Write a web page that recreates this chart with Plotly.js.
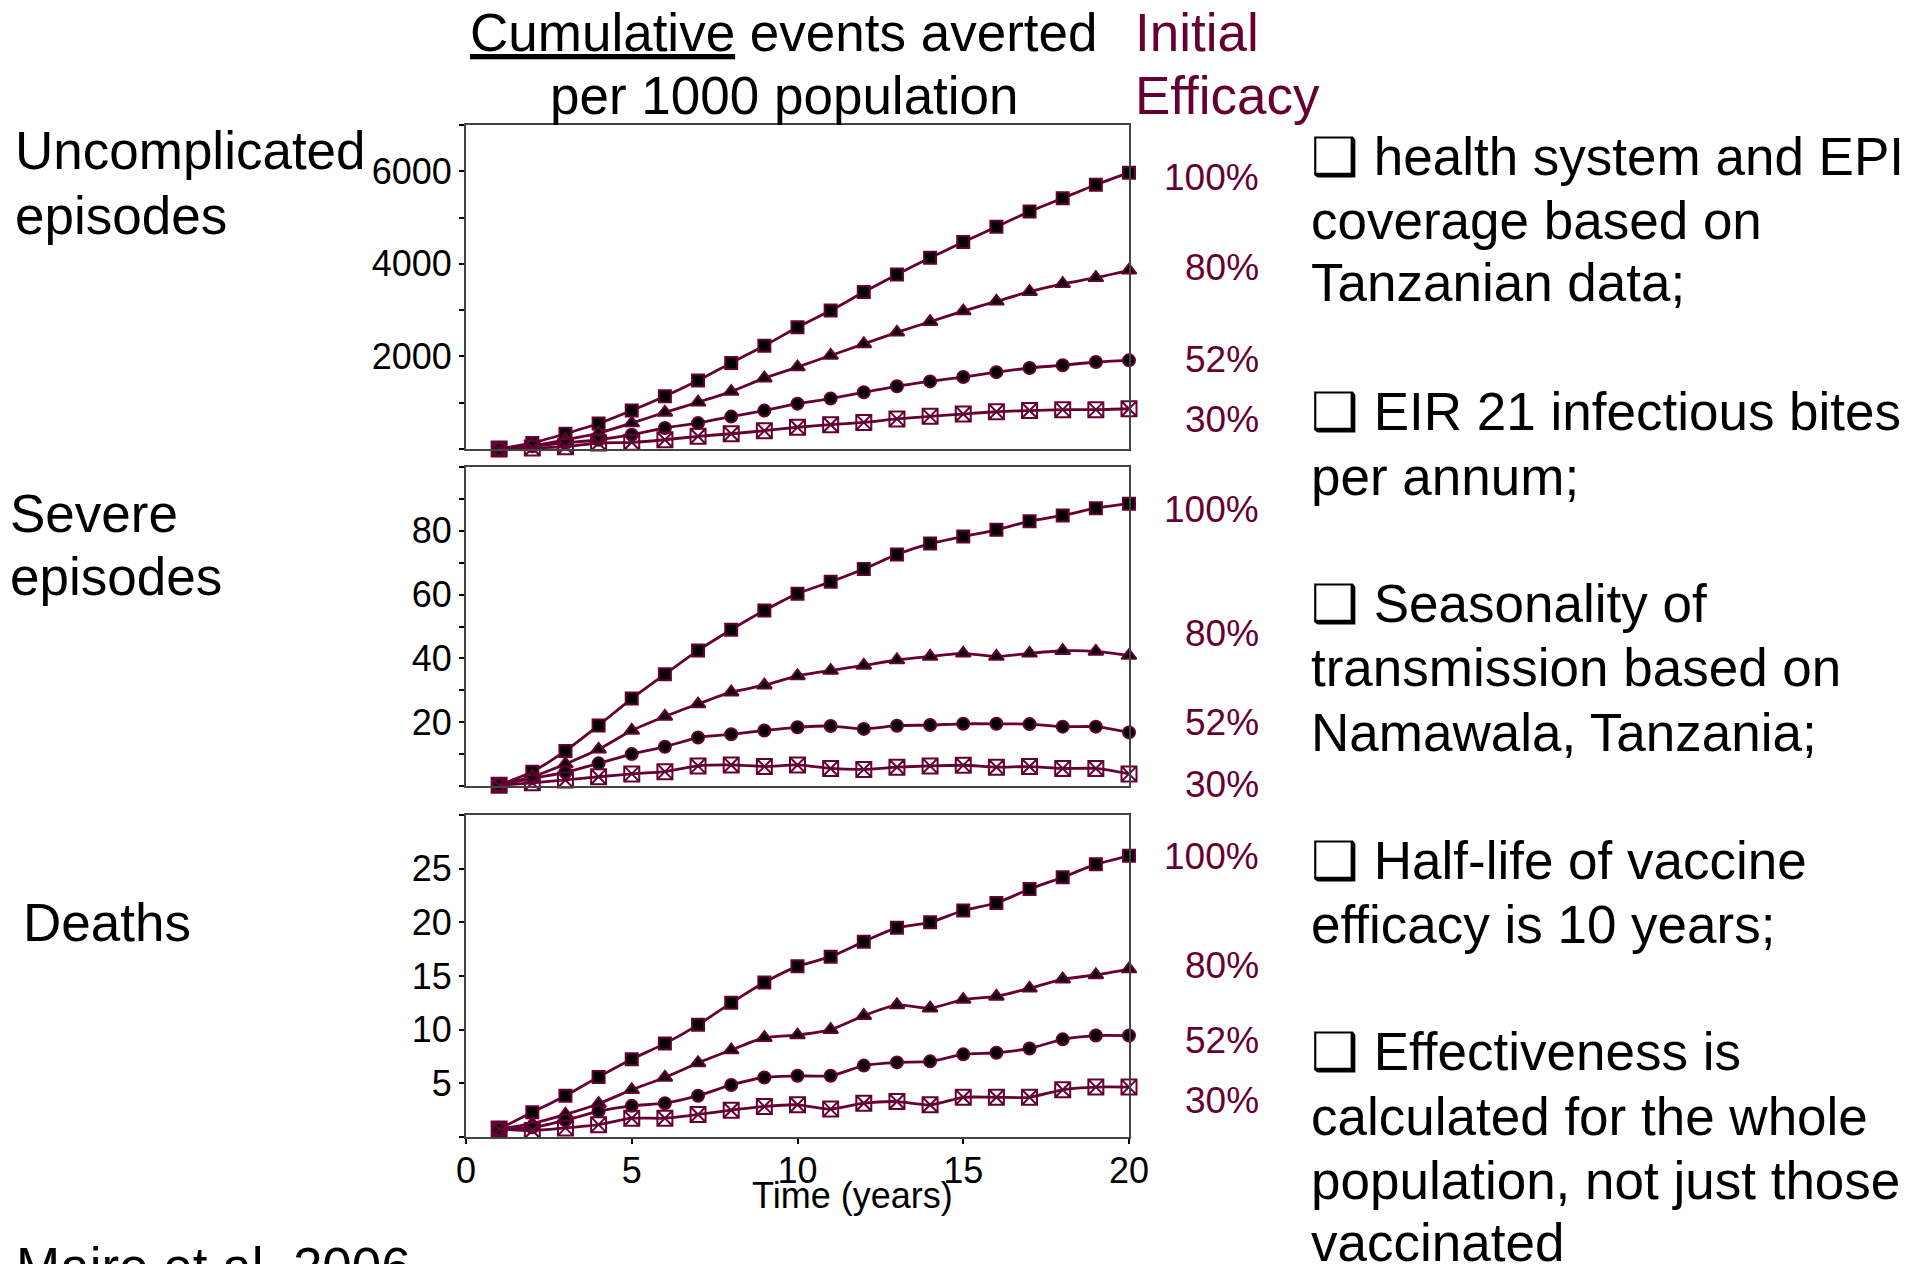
<!DOCTYPE html>
<html>
<head>
<meta charset="utf-8">
<script src="https://cdn.plot.ly/plotly-3.0.1.min.js"></script>
<style>
  html, body { margin: 0; padding: 0; background: #fff; }
  #chart { width: 1923px; height: 1264px; }
</style>
</head>
<body>
<div id="chart"></div>
<script>
// ---------- DATA ----------
const years = [1,2,3,4,5,6,7,8,9,10,11,12,13,14,15,16,17,18,19,20];
const efficacyLabels = ["100%", "80%", "52%", "30%"];
const panelLabels = [["Uncomplicated", "episodes"], ["Severe", "episodes"], ["Deaths"]];

// Uncomplicated episodes averted (cumulative, per 1000)
const uncomp100 = [0,130,330,550,830,1140,1480,1860,2230,2630,2990,3390,3770,4130,4470,4800,5130,5420,5710,5970];
const uncomp80  = [0,70,200,345,560,790,1010,1240,1530,1770,2020,2270,2520,2750,2980,3190,3400,3570,3700,3860];
const uncomp52  = [0,60,130,200,310,455,560,700,830,980,1090,1225,1355,1460,1555,1660,1750,1810,1880,1915];
const uncomp30  = [0,20,50,130,145,200,275,330,395,470,525,575,650,705,755,805,830,850,850,870];

// Severe episodes averted
const severe100 = [0.3,4.5,11,19,27.4,35,42.5,49,55,60.3,64,68,72.6,76,78.2,80.3,83,84.8,87.1,88.5];
const severe80  = [0.3,2.9,6.9,11.5,17.4,21.8,25.7,29.4,31.6,34.5,36.2,37.8,39.5,40.6,41.6,40.6,41.6,42.4,42.2,40.9];
const severe52  = [0.3,2.4,4.3,7.1,10,12.3,15.2,16.2,17.4,18.4,18.8,17.9,18.9,19.1,19.5,19.5,19.4,18.6,18.6,16.8];
const severe30  = [0.2,1,1.9,2.9,3.8,4.5,6.3,6.6,6.1,6.6,5.5,5.2,5.9,6.3,6.5,5.9,6.1,5.5,5.5,3.8];

// Deaths averted
const deaths100 = [0.75,2.3,3.85,5.6,7.25,8.7,10.45,12.5,14.4,15.9,16.8,18.2,19.5,20.0,21.1,21.8,23.1,24.2,25.4,26.2];
const deaths80  = [0.75,1.25,2.1,3.1,4.4,5.55,6.9,8.1,9.25,9.5,10.0,11.3,12.3,12.0,12.8,13.1,13.85,14.7,15.1,15.65];
const deaths52  = [0.75,0.9,1.55,2.4,2.9,3.15,3.85,4.85,5.55,5.7,5.7,6.65,6.95,7.05,7.7,7.85,8.25,9.1,9.45,9.45];
const deaths30  = [0.75,0.6,0.85,1.15,1.75,1.75,2.1,2.5,2.85,3.0,2.6,3.15,3.3,3.0,3.7,3.7,3.7,4.4,4.65,4.65];

// Axis ticks
const xTicks = [0,5,10,15,20];
const y1Ticks = [0,1000,2000,3000,4000,5000,6000,7000];
const y1Text  = ["","","2000","","4000","","6000",""];
const y2Ticks = [0,10,20,30,40,50,60,70,80,90,100];
const y2Text  = ["","","20","","40","","60","","80","",""];
const y3Ticks = [0,5,10,15,20,25,30];
const y3Text  = ["","5","10","15","20","25",""];

const titleLine1 = "<u>Cumulative</u> events averted";
const titleLine2 = "per 1000 population";
const efficacyHead = ["Initial", "Efficacy"];
const xTitle = "Time (years)";
const citation = "Maire et al. 2006";
const notes = [
  "\u2751 health system and EPI", "coverage based on", "Tanzanian data;",
  "\u2751 EIR 21 infectious bites", "per annum;",
  "\u2751 Seasonality of", "transmission based on", "Namawala, Tanzania;",
  "\u2751 Half-life of vaccine", "efficacy is 10 years;",
  "\u2751 Effectiveness is", "calculated for the whole", "population, not just those", "vaccinated"
];

// ---------- STYLE ----------
const W = 1923, H = 1264;
const MAROON = "#660033";
const FONT = "Liberation Sans, Arial, sans-serif";
const px = v => v / W;
const py = v => 1 - v / H;

const markerStyles = [
  {symbol: "square", size: 12, color: "#000", line: {color: MAROON, width: 2}},
  {symbol: "triangle-up", size: 13, color: "#000", line: {color: MAROON, width: 2}},
  {symbol: "circle", size: 12, color: "#000", line: {color: MAROON, width: 2}},
  {symbol: "square-x-open", size: 15, color: MAROON, line: {color: MAROON, width: 2}}
];

const panels = [
  {series: [uncomp100, uncomp80, uncomp52, uncomp30], xa: "x", ya: "y"},
  {series: [severe100, severe80, severe52, severe30], xa: "x2", ya: "y2"},
  {series: [deaths100, deaths80, deaths52, deaths30], xa: "x3", ya: "y3"}
];

const traces = [];
panels.forEach(p => {
  p.series.forEach((vals, i) => {
    traces.push({
      type: "scatter", mode: "lines+markers",
      x: years, y: vals, xaxis: p.xa, yaxis: p.ya,
      line: {color: MAROON, width: 2.8, shape: "spline", smoothing: 0.6},
      marker: markerStyles[i],
      cliponaxis: false, showlegend: false, hoverinfo: "skip"
    });
  });
});

const xDomain = [px(466), px(1129)];
const yDomains = [[py(449), py(125)], [py(786), py(467)], [py(1137), py(815)]];

const axisBase = {
  showline: true, mirror: true, linecolor: "#444", linewidth: 2,
  showgrid: false, zeroline: false,
  tickfont: {family: FONT, size: 36, color: "#000"}
};

function xAxis(anchor, withLabels) {
  return Object.assign({}, axisBase, {
    domain: xDomain, anchor: anchor, range: [0, 20],
    tickmode: "array", tickvals: xTicks,
    ticks: withLabels ? "outside" : "", ticklen: 5, tickwidth: 2, tickcolor: "#000",
    showticklabels: withLabels, ticklabelstandoff: -4
  });
}
function yAxis(anchor, dom, range, tv, tt) {
  return Object.assign({}, axisBase, {
    domain: dom, anchor: anchor, range: range,
    tickmode: "array", tickvals: tv, ticktext: tt,
    ticks: "outside", ticklen: 5, tickwidth: 2, tickcolor: "#000"
  });
}

const annotations = [];
function addText(text, x, y, opts) {
  annotations.push(Object.assign({
    text: text, xref: "paper", yref: "paper", x: px(x), y: py(y),
    xanchor: "left", yanchor: "middle", showarrow: false,
    font: {family: FONT, size: 52, color: "#000"}
  }, opts || {}));
}

// Title
addText(titleLine1, 784, 32, {xanchor: "center", font: {family: FONT, size: 53, color: "#000"}});
addText(titleLine2, 784, 96, {xanchor: "center", font: {family: FONT, size: 53, color: "#000"}});
addText(efficacyHead[0], 1133, 32, {font: {family: FONT, size: 53, color: MAROON}});
addText(efficacyHead[1], 1133, 96, {font: {family: FONT, size: 53, color: MAROON}});

// Panel labels
addText(panelLabels[0][0], 13, 151, {font: {family: FONT, size: 53, color: "#000"}});
addText(panelLabels[0][1], 13, 215, {font: {family: FONT, size: 53, color: "#000"}});
addText(panelLabels[1][0], 8, 513, {font: {family: FONT, size: 53, color: "#000"}});
addText(panelLabels[1][1], 8, 576, {font: {family: FONT, size: 53, color: "#000"}});
addText(panelLabels[2][0], 21, 922, {font: {family: FONT, size: 53, color: "#000"}});

// Efficacy labels beside each panel
const effY = [[178, 267, 359, 419], [510, 633, 722, 784], [857, 965, 1040, 1100]];
effY.forEach(row => row.forEach((yy, i) => {
  addText(efficacyLabels[i], 1261, yy, {xanchor: "right", font: {family: FONT, size: 37, color: MAROON}});
}));

// X title
addText(xTitle, 852, 1195, {xanchor: "center", font: {family: FONT, size: 36, color: "#000"}});

// Notes on the right
const noteY = [156, 220, 283, 412, 476, 603, 667, 732, 860, 924, 1051, 1116, 1180, 1242];
notes.forEach((t, i) => addText(t, 1309, noteY[i], {font: {family: FONT, size: 53, color: "#000"}}));

// Citation
addText(citation, 14, 1266, {font: {family: FONT, size: 53, color: "#000"}});

const layout = {
  width: W, height: H,
  margin: {l: 0, r: 0, t: 0, b: 0},
  paper_bgcolor: "#fff", plot_bgcolor: "#fff",
  showlegend: false,
  xaxis: xAxis("y", false),
  xaxis2: xAxis("y2", false),
  xaxis3: xAxis("y3", true),
  yaxis: yAxis("x", yDomains[0], [0, 7000], y1Ticks, y1Text),
  yaxis2: yAxis("x2", yDomains[1], [0, 100], y2Ticks, y2Text),
  yaxis3: yAxis("x3", yDomains[2], [0, 30], y3Ticks, y3Text),
  annotations: annotations
};

Plotly.newPlot("chart", traces, layout, {displayModeBar: false, staticPlot: true});
</script>
</body>
</html>
